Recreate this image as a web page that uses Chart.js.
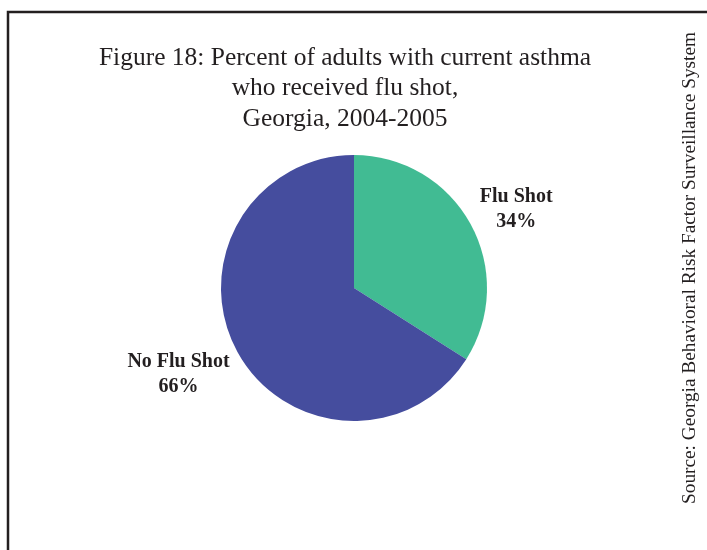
<!DOCTYPE html>
<html>
<head>
<meta charset="utf-8">
<script src="https://cdn.jsdelivr.net/npm/chart.js@4.4.0/dist/chart.umd.min.js"></script>
<style>
  body { margin: 0; background: #fff; }
  .wrap { width: 707px; height: 550px; position: relative; }
</style>
</head>
<body>
<div class="wrap"><canvas id="myChart"></canvas></div>
<script>
// data
var categories = ['Flu Shot', 'No Flu Shot'];
var values = [34, 66];
var colors = ['#41bb93', '#454d9e'];
var titleLines = ['Figure 18: Percent of adults with current asthma', 'who received flu shot,', 'Georgia, 2004-2005'];
var sourceText = 'Source: Georgia Behavioral Risk Factor Surveillance System';

// frame, title, source and slice labels
var decor = {
    id: 'decor',
    beforeDraw: function(chart) {
        var c = chart.ctx;
        c.save();
        c.fillStyle = '#fff';
        c.fillRect(0, 0, chart.width, chart.height);
        c.strokeStyle = '#231f20';
        c.lineWidth = 2.5;
        c.beginPath();
        c.moveTo(8, chart.height + 5);
        c.lineTo(8, 12);
        c.lineTo(chart.width + 5, 12);
        c.stroke();

        c.fillStyle = '#231f20';
        c.font = '25.5px "Liberation Serif", serif';
        c.textAlign = 'center';
        c.textBaseline = 'middle';
        titleLines.forEach(function(t, i) {
            c.fillText(t, 345, 58 + i * 30.5);
        });

        c.translate(690, 268);
        c.rotate(-Math.PI / 2);
        c.font = '19.3px "Liberation Serif", serif';
        c.fillText(sourceText, 0, 0);
        c.restore();
    },
    afterDraw: function(chart) {
        var c = chart.ctx;
        var meta = chart.getDatasetMeta(0);
        c.save();
        c.fillStyle = '#231f20';
        c.font = 'bold 20px "Liberation Serif", serif';
        c.textAlign = 'center';
        c.textBaseline = 'middle';
        meta.data.forEach(function(arc, i) {
            var mid = (arc.startAngle + arc.endAngle) / 2 + 0.05;
            var half = c.measureText(categories[i]).width / 2;
            var r = arc.outerRadius + 11 + half;
            var x = arc.x + Math.cos(mid) * r;
            var y = arc.y + Math.sin(mid) * r;
            c.fillText(categories[i], x, y - 12);
            c.fillText(values[i] + '%', x, y + 13);
        });
        c.restore();
    }
};

var ctx = document.getElementById('myChart').getContext('2d');

var myChart = new Chart(ctx, {
    type: 'pie',
    data: {
        labels: categories,
        datasets: [{
            data: values,
            backgroundColor: colors,
            borderWidth: 0,
            hoverOffset: 0
        }]
    },
    options: {
        responsive: true,
        maintainAspectRatio: false,
        animation: false,
        layout: { padding: { top: 155, bottom: 129, left: 221, right: 220 } },
        plugins: {
            legend: { display: false },
            tooltip: { enabled: false }
        }
    },
    plugins: [decor]
});
</script>
</body>
</html>
